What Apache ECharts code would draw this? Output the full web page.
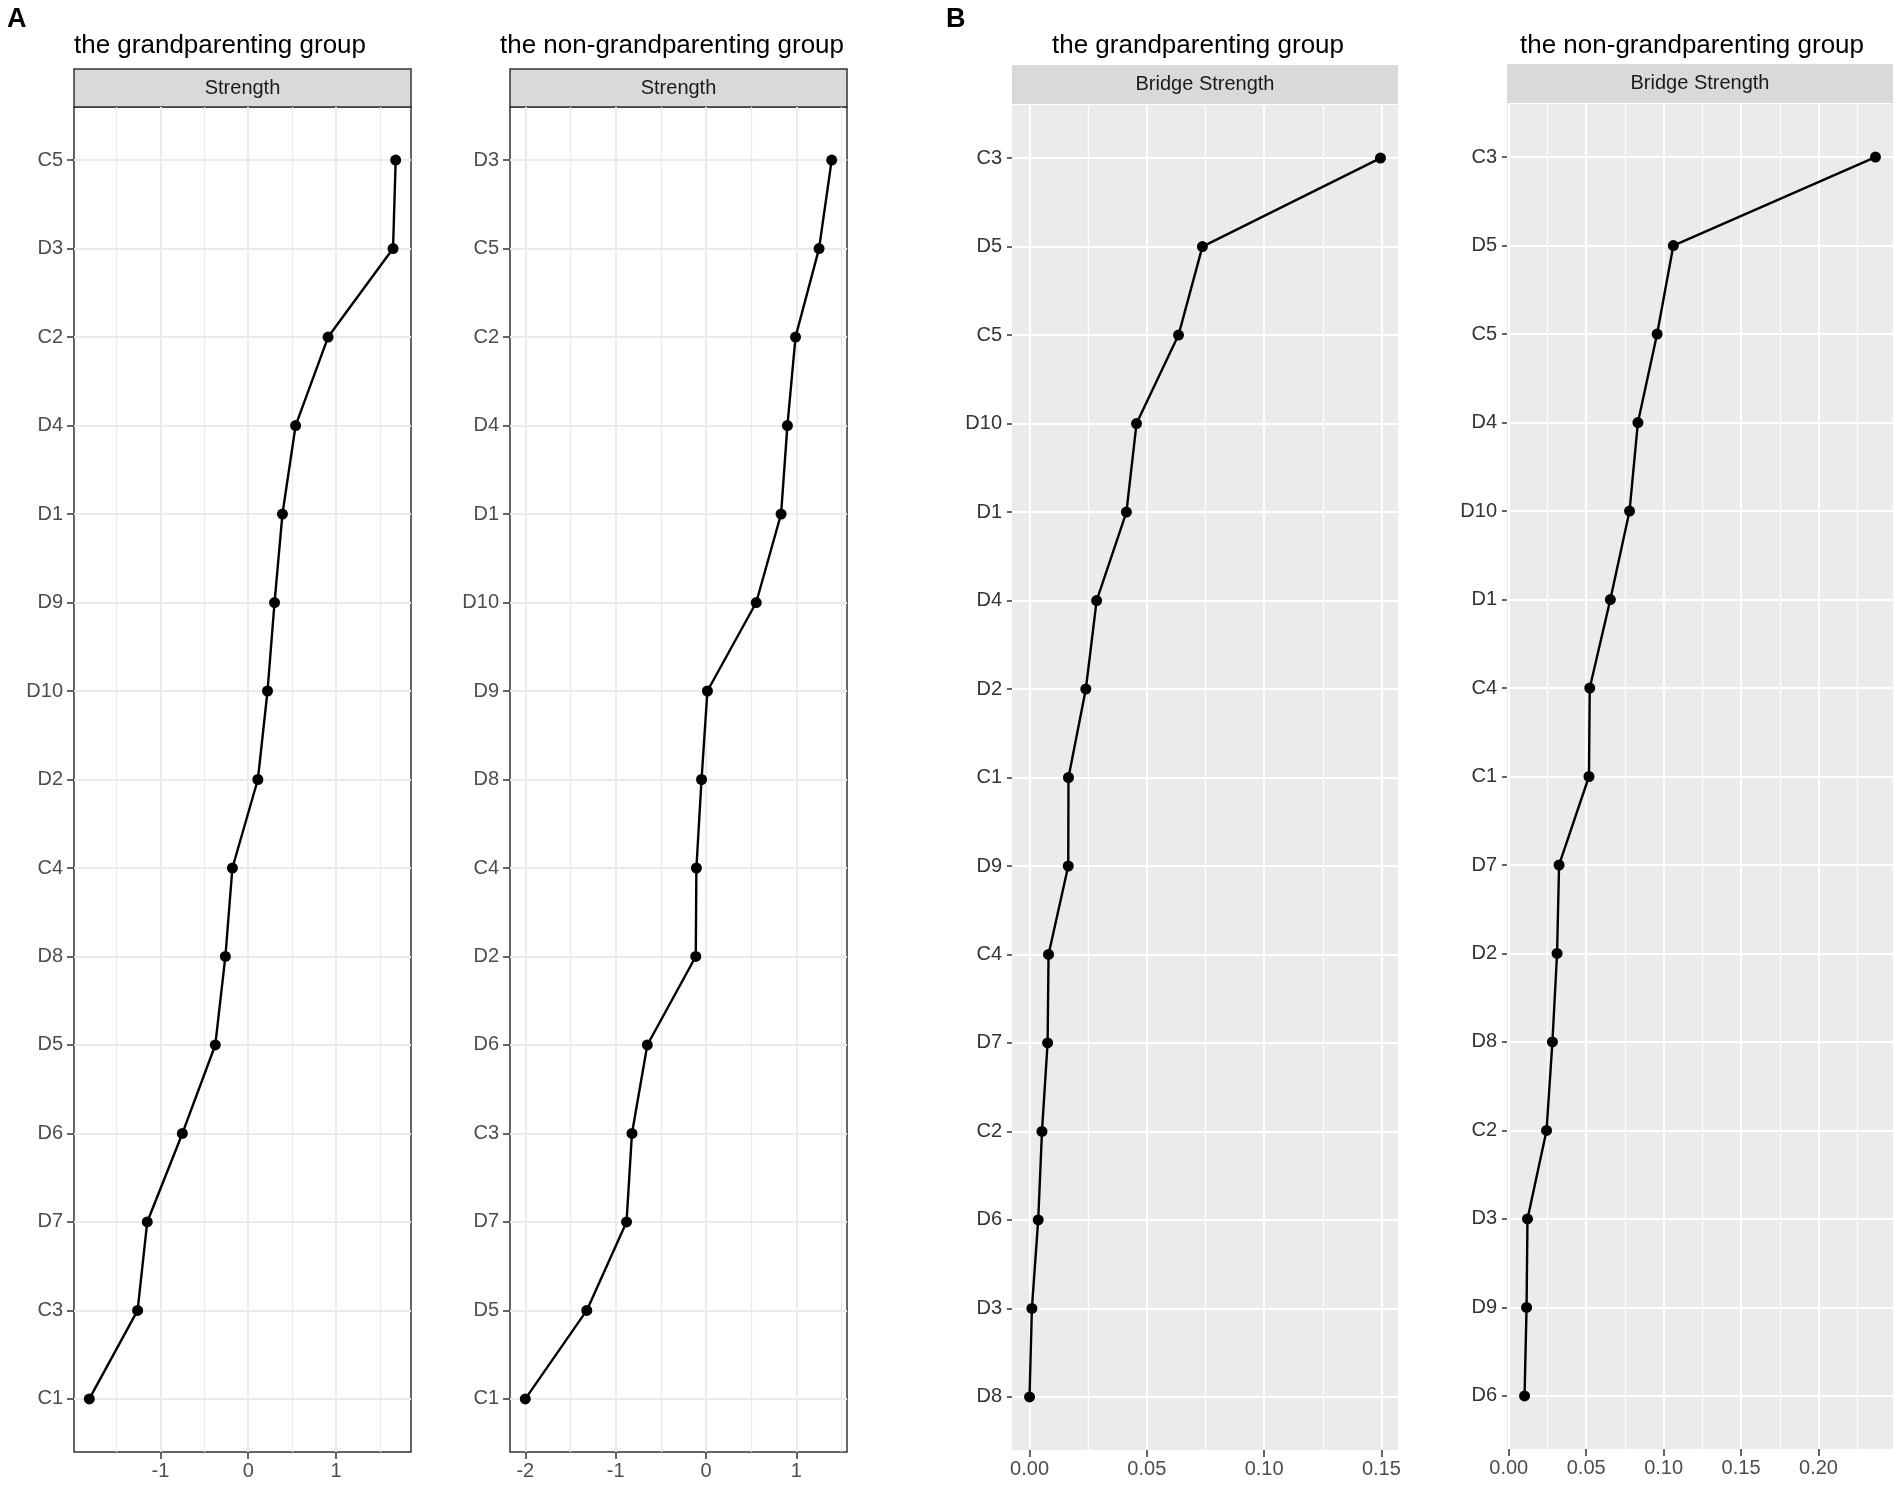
<!DOCTYPE html>
<html>
<head>
<meta charset="utf-8">
<title>Strength / Bridge Strength</title>
<script src="https://cdn.jsdelivr.net/npm/echarts@6/dist/echarts.min.js"></script>
<style>
  html, body { margin: 0; padding: 0; background: #fff; }
  #main { width: 1901px; height: 1485px; }
</style>
</head>
<body>
<div id="main"></div>
<script>
// A 左: the grandparenting group, Strength
var catsA1 = ['C5', 'D3', 'C2', 'D4', 'D1', 'D9', 'D10', 'D2', 'C4', 'D8', 'D5', 'D6', 'D7', 'C3', 'C1'];
var valsA1 = [1.68, 1.65, 0.91, 0.54, 0.39, 0.30, 0.22, 0.11, -0.18, -0.26, -0.375, -0.75, -1.15, -1.26, -1.81];
// A 右: the non-grandparenting group, Strength
var catsA2 = ['D3', 'C5', 'C2', 'D4', 'D1', 'D10', 'D9', 'D8', 'C4', 'D2', 'D6', 'C3', 'D7', 'D5', 'C1'];
var valsA2 = [1.39, 1.25, 0.99, 0.90, 0.83, 0.555, 0.015, -0.05, -0.107, -0.114, -0.65, -0.82, -0.88, -1.32, -2.0];
// B 左: the grandparenting group, Bridge Strength
var catsB1 = ['C3', 'D5', 'C5', 'D10', 'D1', 'D4', 'D2', 'C1', 'D9', 'C4', 'D7', 'C2', 'D6', 'D3', 'D8'];
var valsB1 = [0.1496, 0.0737, 0.0635, 0.0456, 0.0413, 0.0286, 0.0240, 0.0166, 0.0165, 0.0081, 0.0077, 0.0053, 0.0037, 0.0010, 0.0000];
// B 右: the non-grandparenting group, Bridge Strength
var catsB2 = ['C3', 'D5', 'C5', 'D4', 'D10', 'D1', 'C4', 'C1', 'D7', 'D2', 'D8', 'C2', 'D3', 'D9', 'D6'];
var valsB2 = [0.2368, 0.1063, 0.0958, 0.0834, 0.0780, 0.0656, 0.0523, 0.0518, 0.0325, 0.0312, 0.0282, 0.0244, 0.0121, 0.0115, 0.0102];

// 刻度
var majorA1 = [-1, 0, 1];
var minorA1 = [-1.5, -0.5, 0.5, 1.5];
var majorA2 = [-2, -1, 0, 1];
var minorA2 = [-1.5, -0.5, 0.5, 1.5];
var majorB1 = [0, 0.05, 0.10, 0.15];
var minorB1 = [0.025, 0.075, 0.125];
var majorB2 = [0, 0.05, 0.10, 0.15, 0.20];
var minorB2 = [0.025, 0.075, 0.125, 0.175, 0.225];

var titleLeft = 'the grandparenting group';
var titleRight = 'the non-grandparenting group';

var FONT = 'Liberation Sans, Arial, Helvetica, sans-serif';

// 面板布局 (像素)
var panels = [
	{ cats: catsA1, vals: valsA1, major: majorA1, minor: minorA1, bw: true,  digits: 0,
	  left: 74,   top: 107, width: 337, height: 1345, strip: 'Strength', stripTop: 69, stripH: 38,
	  title: titleLeft, titleX: 74 },
	{ cats: catsA2, vals: valsA2, major: majorA2, minor: minorA2, bw: true,  digits: 0,
	  left: 510,  top: 107, width: 337, height: 1345, strip: 'Strength', stripTop: 69, stripH: 38,
	  title: titleRight, titleX: 500 },
	{ cats: catsB1, vals: valsB1, major: majorB1, minor: minorB1, bw: false, digits: 2,
	  left: 1012, top: 105, width: 386, height: 1345, strip: 'Bridge Strength', stripTop: 65, stripH: 39,
	  title: titleLeft, titleX: 1052 },
	{ cats: catsB2, vals: valsB2, major: majorB2, minor: minorB2, bw: false, digits: 2,
	  left: 1507, top: 104, width: 386, height: 1345, strip: 'Bridge Strength', stripTop: 64, stripH: 39,
	  title: titleRight, titleX: 1520 }
];

var grid = [], xAxis = [], yAxis = [], series = [], graphic = [];

panels.forEach(function (p, k) {
	// ggplot 默认 5% 扩展
	var lo = Math.min.apply(null, p.vals), hi = Math.max.apply(null, p.vals);
	var pad = (hi - lo) * 0.05;
	var xmin = lo - pad, xmax = hi + pad;
	var idx = p.cats.map(function (c, i) { return i; });
	var gridColor = p.bw ? '#EBEBEB' : '#FFFFFF';

	grid.push({
		left: p.left, top: p.top, width: p.width, height: p.height,
		containLabel: false, outerBoundsMode: 'none',
		show: true,
		backgroundColor: p.bw ? '#FFFFFF' : '#EBEBEB',
		borderColor: '#333333',
		borderWidth: p.bw ? 1.5 : 0
	});

	// 主刻度轴
	xAxis.push({
		type: 'value', gridIndex: k, min: xmin, max: xmax, position: 'bottom',
		axisLine: { show: false, onZero: false },
		axisTick: { show: true, length: 7, customValues: p.major, lineStyle: { color: '#333333', width: 1.5 } },
		axisLabel: {
			customValues: p.major, margin: 9, color: '#4D4D4D', fontSize: 20, fontFamily: FONT,
			formatter: function (v) { return p.digits ? v.toFixed(p.digits) : String(Math.round(v)); }
		},
		splitLine: { show: true, lineStyle: { color: gridColor, width: 2 } },
		z: 2
	});
	// 次网格线
	xAxis.push({
		type: 'value', gridIndex: k, min: xmin, max: xmax, position: 'top',
		axisLine: { show: false, onZero: false },
		axisTick: { show: false, customValues: p.minor },
		axisLabel: { show: false },
		splitLine: { show: true, lineStyle: { color: gridColor, width: 1.2 } },
		z: 1
	});

	yAxis.push({
		type: 'value', gridIndex: k, inverse: true, min: -0.6, max: p.cats.length - 0.4,
		position: 'left',
		axisLine: { show: false, onZero: false },
		axisTick: { show: true, length: p.bw ? 7 : 5, customValues: idx, lineStyle: { color: '#333333', width: 1.5 } },
		axisLabel: {
			customValues: idx, margin: p.bw ? 11 : 10, color: p.bw ? '#4D4D4D' : '#333333', fontSize: 20, fontFamily: FONT,
			formatter: function (v) { return p.cats[Math.round(v)]; }
		},
		splitLine: { show: true, lineStyle: { color: gridColor, width: 2 } }
	});

	series.push({
		type: 'line', xAxisIndex: k * 2, yAxisIndex: k,
		data: p.vals.map(function (v, i) { return [v, i]; }),
		symbol: 'circle', symbolSize: 11, showSymbol: true,
		lineStyle: { color: '#000000', width: 2.4 },
		itemStyle: { color: '#000000' },
		clip: false, silent: true, z: 5
	});

	// 标题
	graphic.push({
		type: 'text', x: p.titleX, y: 46,
		style: { text: p.title, font: '26px ' + FONT, fill: '#000000', align: 'left', verticalAlign: 'middle' }
	});
	// 分面条
	graphic.push({
		type: 'rect',
		shape: { x: p.left, y: p.stripTop, width: p.width, height: p.stripH },
		style: { fill: '#D9D9D9', stroke: p.bw ? '#333333' : null, lineWidth: p.bw ? 1.5 : 0 }
	});
	graphic.push({
		type: 'text', x: p.left + p.width / 2, y: p.stripTop + p.stripH / 2,
		style: { text: p.strip, font: '20px ' + FONT, fill: '#1A1A1A', align: 'center', verticalAlign: 'middle' }
	});
});

// 面板字母
graphic.push({ type: 'text', x: 7, y: 20, style: { text: 'A', font: 'bold 27px ' + FONT, fill: '#000', align: 'left', verticalAlign: 'middle' } });
graphic.push({ type: 'text', x: 946, y: 20, style: { text: 'B', font: 'bold 27px ' + FONT, fill: '#000', align: 'left', verticalAlign: 'middle' } });

var myChart = echarts.init(document.getElementById('main'), null, { renderer: 'canvas' });
var option = {
	backgroundColor: '#FFFFFF',
	animation: false,
	grid: grid,
	xAxis: xAxis,
	yAxis: yAxis,
	series: series,
	graphic: graphic
};
myChart.setOption(option);
</script>
</body>
</html>
